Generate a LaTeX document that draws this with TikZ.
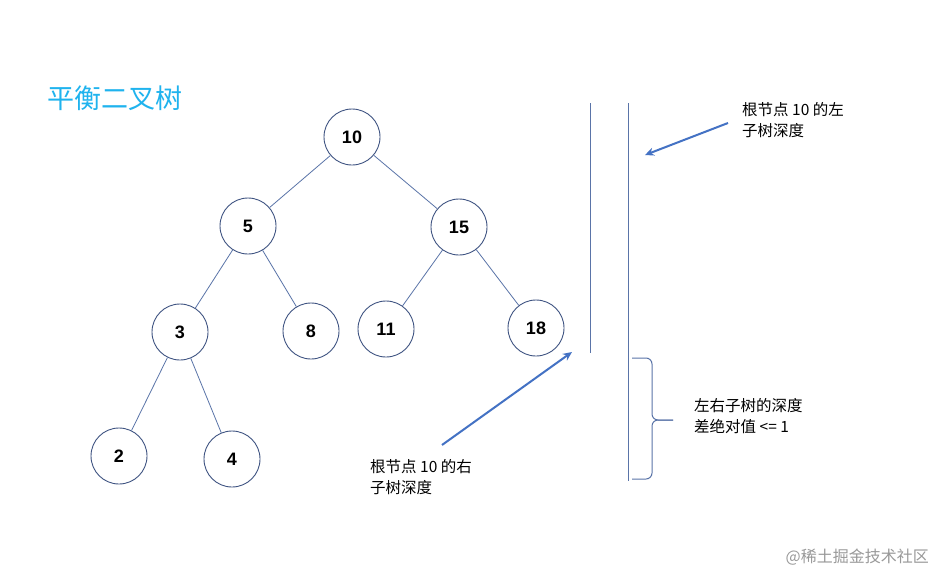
\documentclass[tikz,border=0pt]{standalone}
\usepackage{fontspec}
\setmainfont{Liberation Sans}
\newfontfamily\cjk{Noto Sans CJK SC}
\usetikzlibrary{arrows.meta}
\definecolor{circ}{HTML}{3F5482}
\definecolor{edge}{HTML}{5A74A8}
\definecolor{arr}{HTML}{4472C4}
\definecolor{title}{HTML}{1FB3EE}
\tikzset{
  tnode/.style={circle,draw=circ,line width=0.9pt,minimum size=56pt,inner sep=0pt,font=\fontsize{18}{20}\selectfont\bfseries,fill=white},
  tedge/.style={draw=edge,line width=0.8pt},
  vline/.style={draw=edge,line width=1pt},
  bracestyle/.style={draw=edge,line width=1pt,rounded corners=6pt},
  pointer/.style={draw=arr,line width=2pt,-{Stealth[length=9pt,width=8pt]}},
  note/.style={align=left,anchor=north west,inner sep=0pt,font=\cjk\fontsize{15.5}{21}\selectfont},
}
\begin{document}
\begin{tikzpicture}[x=1pt,y=-1pt]
\path[use as bounding box,fill=white] (0,0) rectangle (934,576);
\node[anchor=west,inner sep=0pt,text=title,font=\cjk\fontsize{27}{30}\selectfont] (title) at (47,98) {平衡二叉树};
% tree nodes
\node[tnode] (n10) at (352,137) {10};
\node[tnode] (n5) at (248,226) {5};
\node[tnode] (n15) at (459,227) {15};
\node[tnode] (n3) at (180,332) {3};
\node[tnode] (n8) at (311,331) {8};
\node[tnode] (n11) at (386,329) {11};
\node[tnode] (n18) at (536,328) {18};
\node[tnode] (n2) at (119,456) {2};
\node[tnode] (n4) at (232,459) {4};
\path[tedge] (n10) -- (n5);
\path[tedge] (n10) -- (n15);
\path[tedge] (n5) -- (n3);
\path[tedge] (n5) -- (n8);
\path[tedge] (n15) -- (n11);
\path[tedge] (n15) -- (n18);
\path[tedge] (n3) -- (n2);
\path[tedge] (n3) -- (n4);
% depth lines
\coordinate (l1t) at (590,103);
\coordinate (l1b) at (590,353);
\coordinate (l2t) at (628,103);
\coordinate (l2b) at (628,481);
\path[vline] (l1t) -- (l1b);
\path[vline] (l2t) -- (l2b);
% brace
\coordinate (bt) at (632,358);
\coordinate (bb) at (632,479);
\coordinate (btip) at (673,420);
\path[bracestyle] (bt) -- (652,358) -- (652,420) -- (btip);
\path[bracestyle] (btip) -- (652,420) -- (652,479) -- (bb);
% notes
\node[note] (lefttxt) at (742,102) {根节点 10 的左\\子树深度};
\node[note] (righttxt) at (370,459) {根节点 10 的右\\子树深度};
\node[note] (difftxt) at (694,398) {左右子树的深度\\差绝对值 <= 1};
% pointers
\coordinate (a1s) at (728,123);
\coordinate (a1e) at (645,155);
\coordinate (a2s) at (442,445);
\coordinate (a2e) at (572,352);
\path[pointer] (a1s) -- (a1e);
\path[pointer] (a2s) -- (a2e);
% watermark
\node[anchor=east,inner sep=0pt,text=black!40,font=\cjk\fontsize{16}{20}\selectfont] (wm) at (929,557) {@稀土掘金技术社区};
\end{tikzpicture}
\end{document}
